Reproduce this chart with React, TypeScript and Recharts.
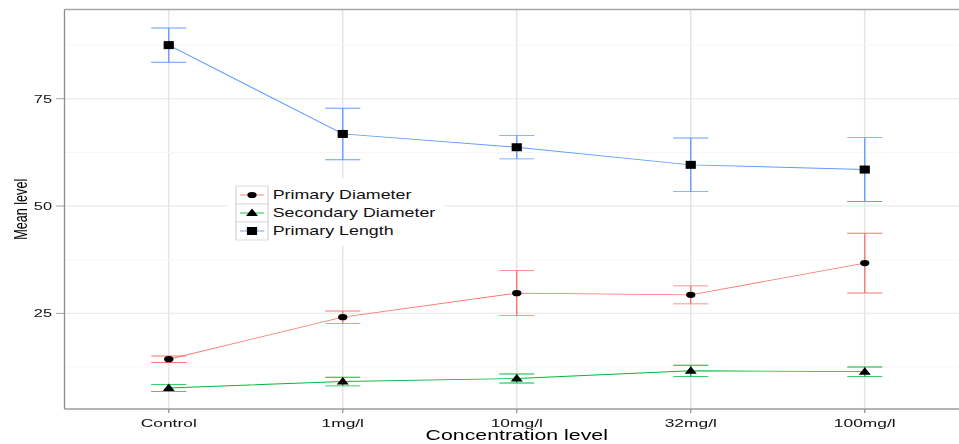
import React from "react";
import {
  LineChart,
  Line,
  XAxis,
  YAxis,
  CartesianGrid,
  ErrorBar,
  ReferenceLine,
  Legend,
  Label,
} from "recharts";

// values (mean ± error)
const categories = ["Control", "1mg/l", "10mg/l", "32mg/l", "100mg/l"];
const primaryDiameter = [14.3, 24.1, 29.7, 29.3, 36.7];
const primaryDiameterErr = [0.75, 1.45, 5.25, 2.1, 6.95];
const secondaryDiameter = [7.6, 9.1, 9.8, 11.6, 11.4];
const secondaryDiameterErr = [0.85, 1.0, 1.05, 1.3, 1.1];
const primaryLength = [87.5, 66.8, 63.7, 59.6, 58.5];
const primaryLengthErr = [4.0, 6.0, 2.7, 6.25, 7.45];
const yTicks = [25, 50, 75];
const yMinorTicks = [12.5, 37.5, 62.5, 87.5];
const yDomain = [2.7, 95.8];

const RED = "#F8766D";
const GREEN = "#00BA38";
const BLUE = "#619CFF";
const FONT = "'Liberation Sans', Arial, Helvetica, sans-serif";

// the reference is stretched horizontally, so the whole chart is drawn narrow and scaled
const SX = 1.5;
const W = 650;
const H = 444;

const data = categories.map((c, i) => ({
  concentration: c,
  pd: primaryDiameter[i],
  pdErr: primaryDiameterErr[i],
  sd: secondaryDiameter[i],
  sdErr: secondaryDiameterErr[i],
  pl: primaryLength[i],
  plErr: primaryLengthErr[i],
}));

function circleMark(cx: number, cy: number, key?: string) {
  return <circle key={key} cx={cx} cy={cy} r={3.1} fill="#000" />;
}
function triangleMark(cx: number, cy: number, key?: string) {
  const pts = `${cx},${cy - 4.5} ${cx - 4},${cy + 3} ${cx + 4},${cy + 3}`;
  return <polygon key={key} points={pts} fill="#000" />;
}
function squareMark(cx: number, cy: number, key?: string) {
  return <rect key={key} x={cx - 3.4} y={cy - 4} width={6.8} height={8} fill="#000" />;
}

const legendItems = [
  { name: "Primary Diameter", color: RED, mark: circleMark },
  { name: "Secondary Diameter", color: GREEN, mark: triangleMark },
  { name: "Primary Length", color: BLUE, mark: squareMark },
];

function LegendBox() {
  const rowTop = 8;
  const rowH = 18;
  return (
    <svg width={144} height={68} style={{ display: "block" }}>
      <rect x={0} y={0} width={144} height={68} fill="#fff" />
      {legendItems.map((it, i) => {
        const y = rowTop + i * rowH;
        const cy = y + rowH / 2;
        return (
          <g key={it.name}>
            <rect x={5.3} y={y} width={21.4} height={rowH} fill="#fff" stroke="#d4d4d4" strokeWidth={0.8} />
            <line x1={8} y1={cy} x2={24.2} y2={cy} stroke={it.color} strokeWidth={0.9} />
            {it.mark(16, cy)}
            <text x={29.8} y={cy + 4.3} fontSize={11.9} fontFamily={FONT} fill="#111">
              {it.name}
            </text>
          </g>
        );
      })}
    </svg>
  );
}

export default function App() {
  return (
    <div
      style={{
        position: "absolute",
        left: 0,
        top: 0,
        width: 959,
        height: H,
        overflow: "hidden",
        background: "#fff",
      }}
    >
      <div style={{ width: W, height: H, transform: `scale(${SX}, 1)`, transformOrigin: "0 0" }}>
        <LineChart width={W} height={H} data={data} margin={{ top: 9.5, right: 4, left: 0, bottom: 0 }}>
          <CartesianGrid stroke="#e6e6e6" strokeWidth={1.1} />
          {yMinorTicks.map((v) => (
            <ReferenceLine key={v} y={v} stroke="#f6f6f6" strokeWidth={1} />
          ))}
          <ReferenceLine y={yDomain[1]} stroke="#a6a6a6" strokeWidth={1.5} />
          <XAxis
            dataKey="concentration"
            padding={{ left: 69.5, right: 69.5 }}
            height={35}
            tickSize={4}
            tickMargin={5.5}
            axisLine={{ stroke: "#b5b5b5", strokeWidth: 1.8 }}
            tickLine={{ stroke: "#8c8c8c", strokeWidth: 0.8 }}
            tick={{ fontSize: 11.6, fill: "#111", fontFamily: FONT }}
            interval={0}
          >
            <Label
              value="Concentration level"
              position="insideBottom"
              offset={3.5}
              style={{ fontSize: 14.2, fill: "#000", fontFamily: FONT }}
            />
          </XAxis>
          <YAxis
            type="number"
            domain={yDomain}
            ticks={yTicks}
            allowDataOverflow
            width={43}
            tickSize={5.7}
            tickMargin={2.6}
            axisLine={{ stroke: "#8c8c8c", strokeWidth: 0.8 }}
            tickLine={{ stroke: "#8c8c8c", strokeWidth: 0.8 }}
            tick={{ fontSize: 10.9, fill: "#111", fontFamily: FONT }}
          >
            <Label
              content={(props: any) => {
                const vb = props.viewBox || {};
                const cy = (vb.y ?? 9.5) + (vb.height ?? 400) / 2;
                const x = 18;
                return (
                  <text
                    x={x}
                    y={cy}
                    transform={`rotate(-90 ${x} ${cy})`}
                    textAnchor="middle"
                    fontSize={12.6}
                    fontFamily={FONT}
                    fill="#000"
                  >
                    Mean level
                  </text>
                );
              }}
            />
          </YAxis>
          <Line
            type="linear"
            dataKey="pd"
            name="Primary Diameter"
            stroke={RED}
            strokeWidth={0.9}
            isAnimationActive={false}
            activeDot={false}
            dot={(p: any) => circleMark(p.cx, p.cy, `pd${p.index}`)}
          >
            <ErrorBar dataKey="pdErr" width={11.7} stroke={RED} strokeWidth={0.9} direction="y" isAnimationActive={false} />
          </Line>
          <Line
            type="linear"
            dataKey="sd"
            name="Secondary Diameter"
            stroke={GREEN}
            strokeWidth={0.9}
            isAnimationActive={false}
            activeDot={false}
            dot={(p: any) => triangleMark(p.cx, p.cy, `sd${p.index}`)}
          >
            <ErrorBar dataKey="sdErr" width={11.7} stroke={GREEN} strokeWidth={0.9} direction="y" isAnimationActive={false} />
          </Line>
          <Line
            type="linear"
            dataKey="pl"
            name="Primary Length"
            stroke={BLUE}
            strokeWidth={0.9}
            isAnimationActive={false}
            activeDot={false}
            dot={(p: any) => squareMark(p.cx, p.cy, `pl${p.index}`)}
          >
            <ErrorBar dataKey="plErr" width={11.7} stroke={BLUE} strokeWidth={0.9} direction="y" isAnimationActive={false} />
          </Line>
          <Legend
            layout="vertical"
            align="center"
            verticalAlign="middle"
            content={() => <LegendBox />}
            wrapperStyle={{ position: "absolute", left: 152, top: 178, width: 144, height: 68 }}
          />
        </LineChart>
      </div>
    </div>
  );
}
